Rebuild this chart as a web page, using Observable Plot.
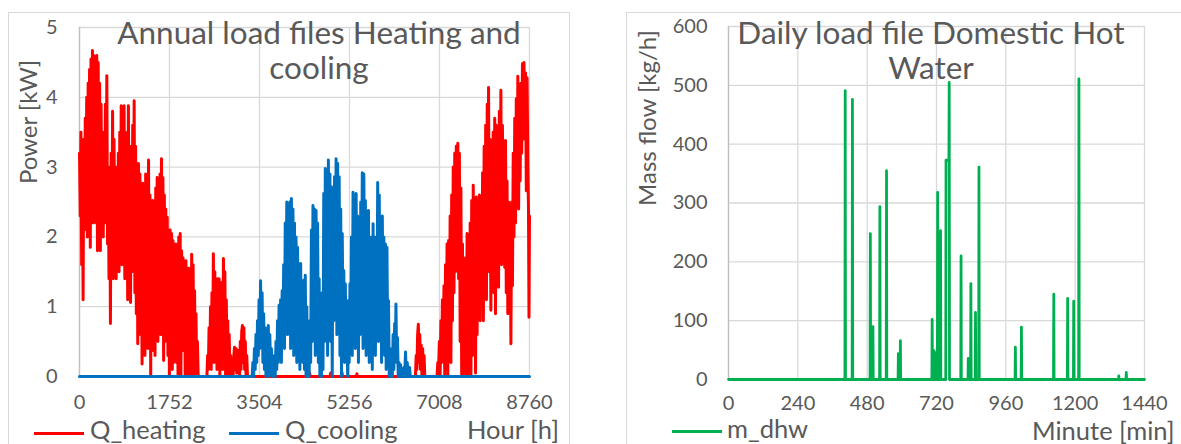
<!DOCTYPE html>
<html>
<head>
<meta charset="utf-8">
<script src="https://cdn.jsdelivr.net/npm/d3@7"></script>
<script src="https://cdn.jsdelivr.net/npm/@observablehq/plot@0.6"></script>
<style>
  html, body { margin: 0; padding: 0; background: #fff; }
  #root { position: relative; width: 1181px; height: 444px; overflow: hidden; font-family: Lato, "Open Sans", sans-serif; color: #595959; }
  .abs { position: absolute; white-space: nowrap; }
  .frame { position: absolute; border: 1px solid #d9d9d9; box-sizing: border-box; }
  .title { font-size: 31.5px; line-height: 35px; text-align: center; }
  .axt { font-size: 24px; line-height: 24px; }
  .leg { font-size: 25.5px; line-height: 14px; }
  .sw { position: absolute; height: 3px; }
  svg { position: absolute; top: 0; }
</style>
</head>
<body>
<div id="root"></div>
<script>
// ---------- Annual load file: heating [hour, kW] (peaks/troughs) ----------
const heatJanMar = [[0,3.2],[14,2.3],[28,3.5],[42,1.6],[56,3.1],[70,1.1],[84,3.4],[98,2.1],[112,3.7],[126,2.4],[140,4.0],[154,2.0],[168,4.2],[182,2.5],[196,4.4],[210,1.85],[224,4.55],[238,2.6],[252,4.67],[266,2.2],[280,4.6],[294,2.9],[308,4.55],[322,2.2],[336,4.6],[350,1.8],[364,4.5],[378,2.3],[392,4.2],[406,1.8],[420,3.9],[434,2.5],[448,3.3],[462,2.0],[476,3.5],[490,2.3],[504,3.9],[518,2.2],[532,4.31],[546,1.9],[560,2.9],[574,1.4],[588,3.0],[602,0.76],[616,3.2],[630,1.7],[644,3.8],[658,1.4],[672,3.4],[686,1.9],[700,3.0],[714,1.4],[728,2.9],[742,1.8],[756,3.2],[770,1.5],[784,3.5],[798,2.0],[812,3.88],[826,1.6],[840,3.5],[854,2.0],[868,3.88],[882,1.4],[896,3.5],[910,1.7],[924,3.2],[938,1.1],[952,3.88],[966,1.7],[980,3.0],[994,1.06],[1008,3.3],[1022,1.5],[1036,3.6],[1050,1.8],[1064,3.95],[1078,1.2],[1092,3.3],[1106,0.9],[1120,3.0],[1134,0.47],[1148,3.05],[1162,0.6],[1176,2.9],[1190,0.9],[1204,2.6],[1218,0.18],[1232,2.77],[1246,0.5],[1260,2.5],[1274,0.3],[1288,2.9],[1302,0.7],[1316,2.7],[1330,0.4],[1344,3.1],[1358,0.7],[1372,2.6],[1386,0.0],[1400,2.4],[1414,0.37],[1428,2.52],[1442,0.6],[1456,2.3],[1470,0.3],[1484,2.7],[1498,0.8],[1512,2.85],[1526,0.5],[1540,2.6],[1554,1.0],[1568,2.9],[1582,0.6],[1596,3.12],[1610,1.0],[1624,2.85],[1638,0.23],[1652,2.6],[1666,0.5],[1680,2.4],[1694,0.76],[1708,2.28],[1722,0.3],[1736,2.1],[1750,0.0],[1764,2.1],[1778,0.4],[1792,2.05],[1806,0.1],[1820,1.95],[1834,0.2],[1848,1.9],[1862,0.7],[1876,1.9],[1890,0.2],[1904,1.8],[1918,0.0],[1932,2.0],[1946,0.3],[1960,2.05],[1974,0.0],[1988,1.8],[2002,0.4],[2016,1.7],[2030,0.37],[2044,1.6],[2058,0.0],[2072,1.66],[2086,0.0],[2100,1.4],[2114,0.1],[2128,1.55],[2142,0.0],[2156,1.2],[2170,0.0],[2184,1.75],[2198,0.0],[2212,1.6],[2226,0.0],[2240,1.23],[2254,0.0],[2268,0.9],[2282,0.0],[2296,0.5],[2310,0.0]];
const heatApr = [[2480,0],[2494,0.3],[2508,0.1],[2522,0.7],[2536,0.2],[2550,1.0],[2564,0.1],[2578,1.2],[2592,0.3],[2606,1.76],[2620,0.2],[2634,1.5],[2648,0.4],[2662,1.3],[2676,0.1],[2690,1.4],[2704,0.3],[2718,1.4],[2732,0.0],[2746,1.3],[2760,0.2],[2774,1.35],[2788,0.1],[2802,1.69],[2816,0.3],[2830,1.5],[2844,0.0],[2858,1.1],[2872,0.2],[2886,0.8],[2900,0.0],[2914,0.6],[2928,0.0],[2942,0.3],[2956,0.0]];
const heatMay = [[2990,0],[3004,0.3],[3018,0.42],[3032,0.1],[3046,0.4],[3060,0.05],[3074,0.38],[3088,0.1],[3102,0.35],[3116,0.0],[3130,0.5],[3144,0.1],[3158,0.65],[3172,0.73],[3186,0.2],[3200,0.7],[3214,0.1],[3228,0.5],[3242,0.0],[3256,0.3],[3270,0.0],[3290,0]];
const heatSummer = [[4470,0],[4480,0.05],[4490,0],[4880,0],[4890,0.05],[4900,0],[5100,0],[5110,0.06],[5120,0],[5390,0],[5400,0.04],[5410,0]];
const heatOct = [[6540,0],[6554,0.3],[6568,0.1],[6582,0.6],[6596,0.75],[6610,0.2],[6624,0.6],[6638,0.1],[6652,0.45],[6666,0.0],[6680,0.4],[6694,0.05],[6708,0.3],[6722,0.0],[6740,0]];
const heatNovDec = [[6960,0],[6975,0.2],[6990,0.1],[7005,0.5],[7020,0.0],[7035,0.8],[7050,0.2],[7065,1.1],[7080,0.3],[7095,1.3],[7110,0.0],[7125,1.6],[7140,0.4],[7155,1.9],[7170,0.0],[7185,1.95],[7200,0.6],[7215,2.3],[7230,0.2],[7245,2.6],[7260,0.8],[7275,3.0],[7290,1.2],[7305,3.2],[7320,1.5],[7335,3.3],[7350,1.9],[7365,3.34],[7380,1.4],[7395,3.2],[7410,0.5],[7425,2.7],[7440,0.0],[7455,1.9],[7470,0.0],[7485,1.5],[7500,0.3],[7515,1.7],[7530,0.0],[7545,2.05],[7560,0.0],[7575,1.76],[7590,0.4],[7605,2.2],[7620,0.0],[7635,2.52],[7650,0.3],[7665,2.74],[7680,0.7],[7695,2.4],[7710,0.05],[7725,2.57],[7740,0.6],[7755,2.2],[7770,1.0],[7785,2.6],[7800,0.8],[7815,2.57],[7830,1.2],[7847,2.92],[7862,0.8],[7877,3.3],[7892,1.4],[7907,3.6],[7922,1.1],[7937,3.9],[7950,2.0],[7963,4.14],[7978,1.5],[7993,3.4],[8008,0.95],[8023,3.2],[8038,1.8],[8053,3.5],[8068,1.2],[8083,3.7],[8098,0.9],[8113,3.6],[8128,2.0],[8143,3.3],[8158,1.28],[8173,3.8],[8188,2.3],[8203,4.1],[8218,1.6],[8233,3.6],[8248,2.1],[8263,3.28],[8278,1.56],[8293,3.38],[8308,1.2],[8323,2.8],[8338,0.9],[8353,2.5],[8368,1.1],[8383,2.4],[8398,0.47],[8413,2.5],[8428,1.3],[8443,3.2],[8458,2.0],[8473,3.7],[8488,2.2],[8503,3.98],[8518,2.6],[8533,4.3],[8548,2.4],[8563,4.0],[8578,2.8],[8593,4.2],[8608,3.2],[8623,4.48],[8638,3.4],[8653,4.5],[8668,3.48],[8683,4.35],[8698,2.66],[8713,4.28],[8728,3.0],[8740,2.42],[8750,0.85],[8760,2.3]];

// ---------- Annual load file: cooling [hour, kW] ----------
const coolMay = [[0,0],[3360,0],[3375,0.2],[3390,0.0],[3405,0.4],[3420,0.1],[3435,0.6],[3450,0.2],[3465,0.8],[3480,0.3],[3495,1.1],[3510,0.4],[3525,1.37],[3540,0.5],[3555,1.2],[3570,0.2],[3585,0.9],[3600,0.1],[3615,0.7],[3630,0.0],[3645,0.5],[3660,0.1],[3675,0.73],[3690,0.0],[3705,0.6],[3720,0.1],[3735,0.4],[3750,0.0],[3765,0.2],[3780,0]];
const coolJun = [[3795,0.3],[3810,0.0],[3825,0.5],[3840,0.1],[3855,0.8],[3870,0.2],[3885,1.02],[3900,0.3],[3915,1.1],[3930,0.2],[3945,1.23],[3960,0.5],[3975,1.6],[3990,0.4],[4005,2.2],[4020,0.8],[4035,2.5],[4050,0.6],[4065,2.45],[4080,0.9],[4095,2.5],[4110,0.4],[4125,2.55],[4140,1.0],[4155,2.4],[4170,0.3],[4185,2.2],[4200,0.6],[4215,2.0],[4230,0.2],[4245,1.85],[4260,0.4],[4275,1.6],[4290,0.1],[4305,1.62],[4320,0.3],[4335,1.3],[4350,0.2],[4365,1.38],[4380,0.1],[4395,1.45],[4410,0.0],[4425,1.0],[4440,0.0],[4455,0.3],[4470,0],[4485,0.8],[4500,0.2],[4515,2.1],[4530,0.5],[4545,2.45],[4560,0.6],[4575,2.4],[4590,0.3],[4605,2.38],[4620,0.8],[4635,2.2],[4650,0.2],[4665,1.4],[4680,0.0],[4695,0.6],[4710,0]];
const coolJul = [[4725,1.2],[4740,0.1],[4755,2.62],[4770,0.5],[4785,2.98],[4800,0.8],[4815,2.9],[4830,0.3],[4845,3.1],[4860,1.0],[4875,2.9],[4890,0.5],[4905,2.72],[4920,0.0],[4935,2.5],[4950,0.8],[4965,2.86],[4980,1.1],[4995,3.12],[5010,0.6],[5025,3.05],[5040,1.2],[5055,2.86],[5070,0.3],[5085,2.4],[5100,0.0],[5115,2.05],[5130,0.6],[5145,1.52],[5160,0.2],[5175,1.33],[5190,0.4],[5205,0.8],[5220,0]];
const coolAug = [[5235,1.09],[5250,0.2],[5265,1.33],[5280,0.5],[5295,2.0],[5310,0.3],[5325,2.64],[5340,0.8],[5355,2.4],[5370,0.4],[5385,2.62],[5400,0.9],[5415,2.3],[5430,0.2],[5445,2.05],[5460,0.6],[5475,2.5],[5490,1.0],[5505,2.92],[5520,0.4],[5535,2.9],[5550,1.2],[5565,2.52],[5580,0.3],[5595,2.2],[5610,0.8],[5625,2.38],[5640,0.2],[5655,1.6],[5670,0.5],[5685,2.0],[5700,0.1],[5715,2.19],[5730,0.6],[5745,2.0],[5760,0.3],[5775,1.8],[5790,0.9],[5805,2.78],[5820,0.5],[5835,2.6],[5850,1.0],[5865,2.28],[5880,0.2],[5895,2.3],[5910,0.7],[5925,2.0],[5940,0.3],[5955,1.9],[5970,0.1],[5985,1.85],[6000,0.4],[6015,1.09],[6030,0.0],[6045,0.4],[6060,0]];
const coolSep = [[6075,0.3],[6090,0.0],[6105,0.6],[6120,0.1],[6135,0.76],[6150,0.3],[6160,1.04],[6175,0.2],[6190,0.56],[6205,0.0],[6220,0.2],[6235,0.0],[6250,0.17],[6265,0.0],[6280,0.1],[6300,0.0],[6315,0.13],[6330,0.0],[6347,0.35],[6360,0.0],[6380,0.2],[6400,0.0],[6425,0.13],[6440,0],[8760,0]];

// ---------- Daily DHW: spikes [minute, kg/h]; zero elsewhere ----------
const dhwSpikes = [[404,491],[429,476],[491,248],[500,90],[524,294],[547,355],[588,44],[595,66],[705,102],[711,49],[714,46],[724,318],[734,253],[753,373],[754,373],[755,373],[756,373],[757,373],[758,373],[759,373],[760,373],[761,373],[762,373],[763,373],[764,505],[805,210],[830,36],[839,163],[855,114],[867,361],[993,55],[1014,89],[1126,145],[1174,138],[1195,133],[1213,511],[1351,6],[1377,12]];

// ---------- Axis ticks ----------
const hourTicks = [0, 1752, 3504, 5256, 7008, 8760];
const powerTicks = [0, 1, 2, 3, 4, 5];
const minuteTicks = [0, 240, 480, 720, 960, 1200, 1440];
const flowTicks = [0, 100, 200, 300, 400, 500, 600];

const toObj = (arr) => arr.map(([x, y]) => ({x, y}));
const heat = toObj([].concat(heatJanMar, [[2330,0]], heatApr, heatMay, heatSummer, heatOct, heatNovDec));
const cool = toObj([].concat(coolMay, coolJun, coolJul, coolAug, coolSep));
const spikeMap = new Map(dhwSpikes);
const dhw = d3.range(0, 1441).map(m => ({x: m, y: spikeMap.get(m) ?? 0}));

const root = document.getElementById("root");
const TXT = "#595959", GRID = "#d9d9d9";
const font = "Lato, 'Open Sans', sans-serif";
const fmt = d => String(d);

function add(html) { root.insertAdjacentHTML("beforeend", html); }

// chart area frames
add(`<div class="frame" style="left:8px;top:12px;width:562px;height:460px"></div>`);
add(`<div class="frame" style="left:626px;top:12px;width:600px;height:460px"></div>`);

const left = Plot.plot({
  width: 569, height: 444,
  marginLeft: 79, marginRight: 40, marginTop: 27, marginBottom: 68,
  x: {domain: [0, 8760]},
  y: {domain: [0, 5]},
  style: {fontFamily: font, fontSize: "20px", color: TXT, background: "transparent", overflow: "visible"},
  marks: [
    Plot.gridY(powerTicks, {stroke: GRID, strokeOpacity: 1, strokeWidth: 1.3}),
    Plot.gridX(hourTicks, {stroke: GRID, strokeOpacity: 1, strokeWidth: 1.3}),
    Plot.ruleX([0], {stroke: "#bfbfbf", strokeWidth: 1.3}),
    Plot.axisY(powerTicks, {tickSize: 0, tickPadding: 22, fill: TXT, fontSize: 20, label: null, tickFormat: fmt}),
    Plot.axisX(hourTicks, {tickSize: 0, tickPadding: 18, fill: TXT, fontSize: 20, label: null, tickFormat: fmt}),
    Plot.line(heat, {x: "x", y: "y", stroke: "#ff0000", strokeWidth: 3}),
    Plot.line(cool, {x: "x", y: "y", stroke: "#0070c0", strokeWidth: 3})
  ]
});
left.style.left = "0px";
root.appendChild(left);

const right = Plot.plot({
  width: 581, height: 444,
  marginLeft: 128, marginRight: 37, marginTop: 26, marginBottom: 65,
  x: {domain: [0, 1440]},
  y: {domain: [0, 600]},
  style: {fontFamily: font, fontSize: "20px", color: TXT, background: "transparent", overflow: "visible"},
  marks: [
    Plot.gridY(flowTicks, {stroke: GRID, strokeOpacity: 1, strokeWidth: 1.3}),
    Plot.gridX(minuteTicks, {stroke: GRID, strokeOpacity: 1, strokeWidth: 1.3}),
    Plot.ruleX([0], {stroke: "#bfbfbf", strokeWidth: 1.3}),
    Plot.axisY(flowTicks, {tickSize: 0, tickPadding: 21, fill: TXT, fontSize: 20, label: null, tickFormat: fmt}),
    Plot.axisX(minuteTicks, {tickSize: 0, tickPadding: 16, fill: TXT, fontSize: 20, label: null, tickFormat: fmt}),
    Plot.line(dhw, {x: "x", y: "y", stroke: "#00b050", strokeWidth: 2.8})
  ]
});
right.style.left = "600px";
root.appendChild(right);

// titles
add(`<div class="abs title" style="left:99px;top:15px;width:440px;white-space:normal">Annual load files Heating and cooling</div>`);
add(`<div class="abs title" style="left:711px;top:15px;width:440px;white-space:normal">Daily load file Domestic Hot Water</div>`);

// axis titles
add(`<div class="abs axt" style="left:28px;top:122px;transform:translate(-50%,-50%) rotate(-90deg)">Power [kW]</div>`);
add(`<div class="abs axt" style="left:647px;top:118px;transform:translate(-50%,-50%) rotate(-90deg)">Mass flow [kg/h]</div>`);
add(`<div class="abs leg" style="left:467px;top:422px">Hour [h]</div>`);
add(`<div class="abs leg" style="left:1032px;top:423px">Minute [min]</div>`);

// legends
add(`<div class="sw" style="left:34px;top:432px;width:50px;background:#ff0000"></div>`);
add(`<div class="abs leg" style="left:90px;top:422px">Q_heating</div>`);
add(`<div class="sw" style="left:229px;top:432px;width:50px;background:#0070c0"></div>`);
add(`<div class="abs leg" style="left:285px;top:422px">Q_cooling</div>`);
add(`<div class="sw" style="left:672px;top:430px;width:50px;background:#00b050"></div>`);
add(`<div class="abs leg" style="left:727px;top:421px">m_dhw</div>`);
</script>
</body>
</html>
